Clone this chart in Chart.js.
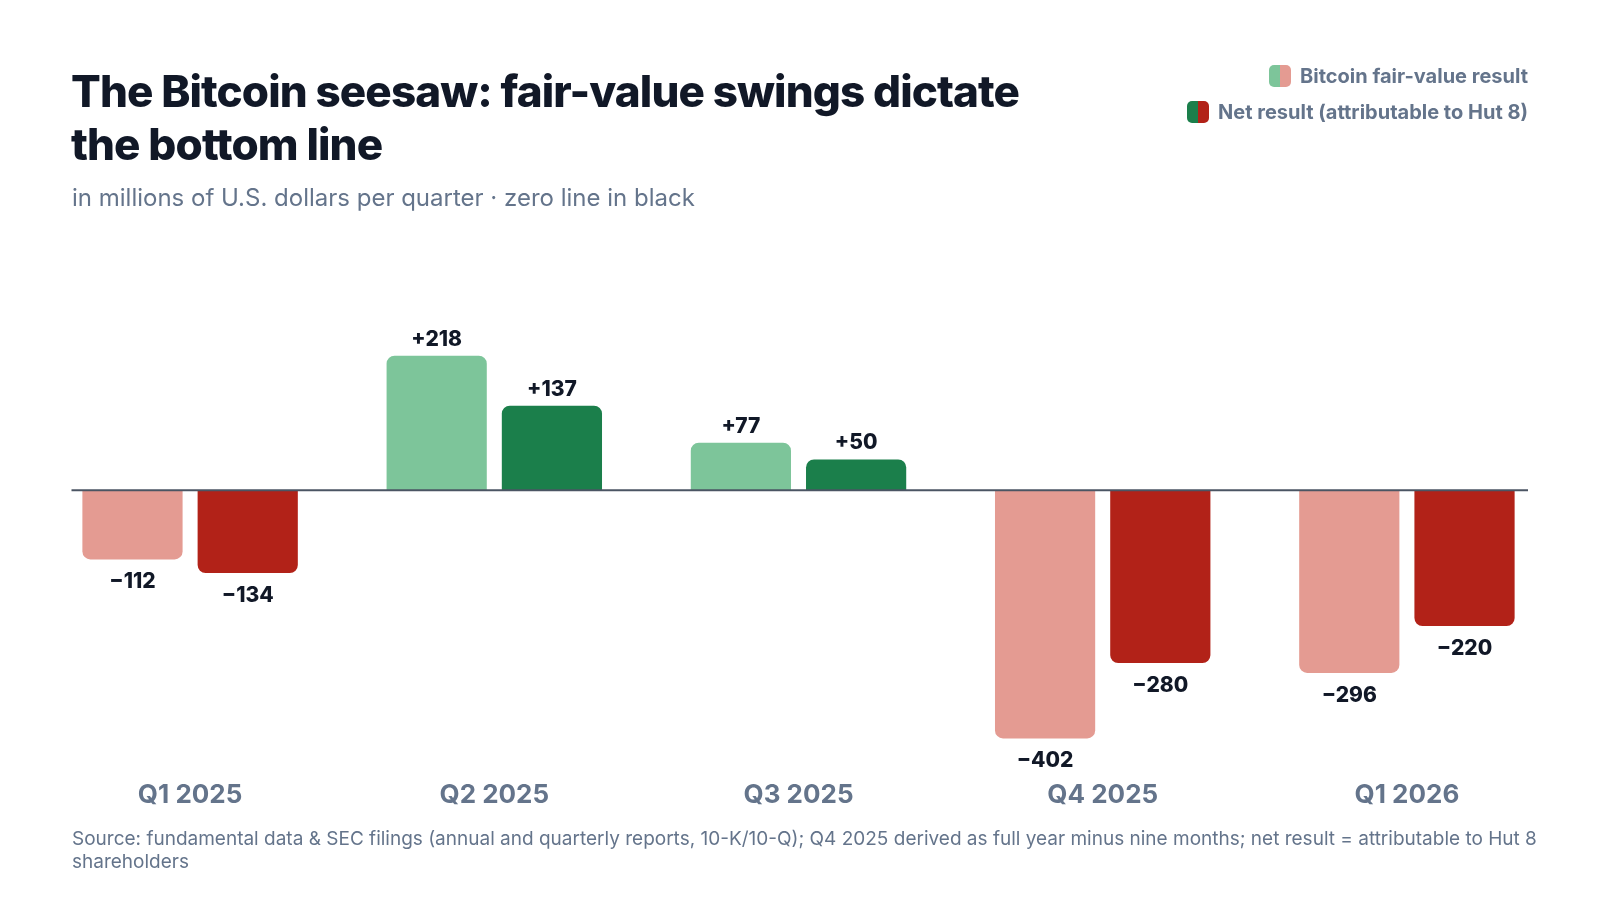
<!DOCTYPE html>
<html>
<head>
<meta charset="utf-8">
<script src="https://cdn.jsdelivr.net/npm/chart.js@4.4.1/dist/chart.umd.min.js"></script>
<style>
  html, body { margin: 0; padding: 0; background: #ffffff; }
  body { width: 1600px; height: 900px; position: relative; overflow: hidden; font-family: Inter, "Noto Sans", sans-serif; }
  #chart { position: absolute; left: 0; top: 0; }
  .title { position: absolute; left: 71px; top: 65px; font-size: 44px; line-height: 53px; font-weight: 800; color: #111827; letter-spacing: -0.9px; }
  .subtitle { position: absolute; left: 72px; top: 184px; font-size: 24px; line-height: 28px; color: #64748b; }
  .legend { position: absolute; right: 72px; top: 58px; font-size: 20px; font-weight: 700; color: #64748b; text-align: right; }
  .legend .row { display: flex; justify-content: flex-end; align-items: center; height: 36px; }
  .legend .sw { width: 22px; height: 22px; border-radius: 5px; margin-right: 9px; overflow: hidden; display: flex; }
  .legend .sw span { flex: 1; }
  .foot { position: absolute; left: 72px; top: 828px; width: 1475px; font-size: 19px; line-height: 22.5px; color: #64748b; }
</style>
</head>
<body>
<canvas id="chart" width="1600" height="900"></canvas>
<div class="title">The Bitcoin seesaw: fair-value swings dictate<br>the bottom line</div>
<div class="subtitle">in millions of U.S. dollars per quarter · zero line in black</div>
<div class="legend">
  <div class="row"><div class="sw"><span style="background:#7dc59a"></span><span style="background:#e49b92"></span></div>Bitcoin fair-value result</div>
  <div class="row"><div class="sw"><span style="background:#1b7f4b"></span><span style="background:#b22218"></span></div>Net result (attributable to Hut 8)</div>
</div>
<div class="foot">Source: fundamental data &amp; SEC filings (annual and quarterly reports, 10-K/10-Q); Q4 2025 derived as full year minus nine months; net result = attributable to Hut 8 shareholders</div>
<script>
const categories = ['Q1 2025', 'Q2 2025', 'Q3 2025', 'Q4 2025', 'Q1 2026'];
const fairValue = [-112, 218, 77, -402, -296];
const netResult = [-134, 137, 50, -280, -220];
const seriesNames = ['Bitcoin fair-value result', 'Net result (attributable to Hut 8)'];

const COLORS = {
  fairPos: '#7dc59a', fairNeg: '#e49b92',
  netPos: '#1b7f4b', netNeg: '#b22218',
  zero: '#4b5563', label: '#111827', axis: '#64748b'
};

function fmt(v) { return (v > 0 ? '+' : '\u2212') + Math.abs(v); }

const zeroLine = {
  id: 'zeroLine',
  afterDatasetsDraw(chart) {
    const { ctx, chartArea, scales } = chart;
    const y = scales.y.getPixelForValue(0);
    ctx.save();
    ctx.strokeStyle = COLORS.zero;
    ctx.lineWidth = 2;
    ctx.beginPath();
    ctx.moveTo(chartArea.left + 33.5, y);
    ctx.lineTo(chartArea.right - 31, y);
    ctx.stroke();
    ctx.restore();
  }
};

const valueLabels = {
  id: 'valueLabels',
  afterDatasetsDraw(chart) {
    const { ctx } = chart;
    ctx.save();
    ctx.font = '800 21px Inter, "Noto Sans", sans-serif';
    ctx.fillStyle = COLORS.label;
    ctx.textAlign = 'center';
    ctx.textBaseline = 'alphabetic';
    chart.data.datasets.forEach((ds, di) => {
      const meta = chart.getDatasetMeta(di);
      meta.data.forEach((bar, i) => {
        const v = ds.data[i];
        const y = v >= 0 ? bar.y - 10 : bar.y + 29;
        ctx.fillText(fmt(v), bar.x, y);
      });
    });
    ctx.restore();
  }
};

const chartTop = 336, chartBottom = 768, tickPad = 12, tickFont = 26;
new Chart(document.getElementById('chart'), {
  type: 'bar',
  data: {
    labels: categories,
    datasets: [
      {
        label: seriesNames[0],
        data: fairValue,
        backgroundColor: ctx => (ctx.raw >= 0 ? COLORS.fairPos : COLORS.fairNeg),
        borderRadius: 8,
        borderSkipped: 'start',
        categoryPercentage: 0.7576,
        barPercentage: 0.8696
      },
      {
        label: seriesNames[1],
        data: netResult,
        backgroundColor: ctx => (ctx.raw >= 0 ? COLORS.netPos : COLORS.netNeg),
        borderRadius: 8,
        borderSkipped: 'start',
        categoryPercentage: 0.7576,
        barPercentage: 0.8696
      }
    ]
  },
  options: {
    responsive: false,
    animation: false,
    devicePixelRatio: 1,
    layout: {
      padding: {
        left: 38, right: 41, top: chartTop,
        bottom: 900 - chartBottom - tickFont * 1.2 - tickPad * 2
      }
    },
    plugins: { legend: { display: false }, tooltip: { enabled: false }, title: { display: false } },
    scales: {
      x: {
        grid: { display: false, drawTicks: false },
        border: { display: false },
        ticks: {
          padding: tickPad,
          color: COLORS.axis,
          font: { family: 'Inter, "Noto Sans", sans-serif', size: tickFont, weight: '700' }
        }
      },
      y: {
        display: false,
        min: -450,
        max: 250
      }
    }
  },
  plugins: [zeroLine, valueLabels]
});
</script>
</body>
</html>
